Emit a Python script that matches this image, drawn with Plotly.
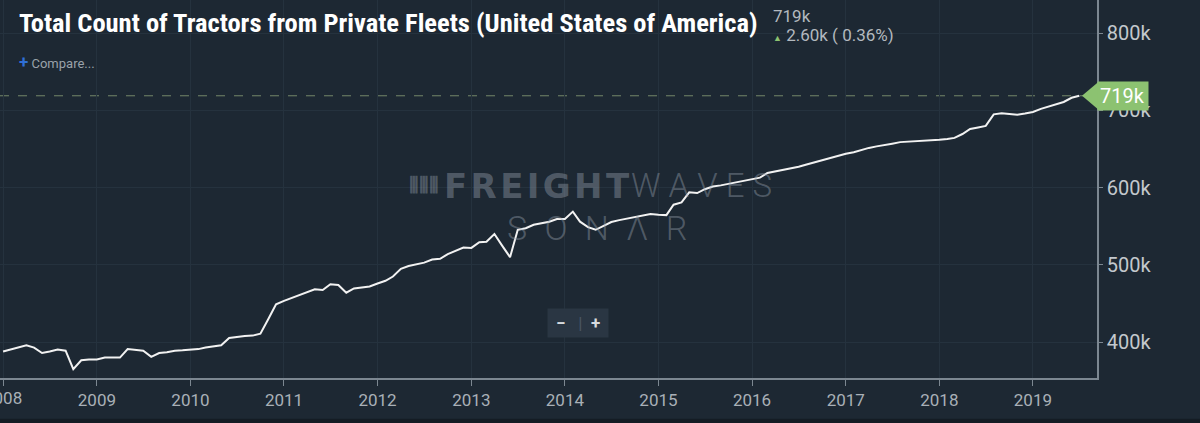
import pandas as pd
import plotly.graph_objects as go

# monthly totals, thousands of tractors (Jan 2008 .. Jul 2019)
start_month = "2008-01-01"
y2008 = [388, 390.5, 393.5, 396, 393, 386, 388, 390.5, 389, 365, 376.5, 377.5]
y2009 = [377.5, 380, 380, 380, 391, 390, 389, 381, 386, 387, 389, 389.5]
y2010 = [390, 391, 393, 395, 396, 405.5, 407, 408, 408.5, 411, 430, 449]
y2011 = [453.5, 457.5, 461, 465, 468.5, 467.5, 475, 474, 464, 469.5, 471, 472]
y2012 = [476, 479.5, 485, 495, 498.5, 501, 503, 507, 508, 514, 518.5, 522.5]
y2013 = [522, 529.5, 530, 540, 525, 510, 545.5, 547.5, 552, 554, 556, 559.5]
y2014 = [559.5, 569, 556, 549, 545.5, 550.5, 555.5, 558, 560, 562, 564, 566]
y2015 = [565, 564.5, 578, 581, 594, 593, 598, 601.5, 603, 605, 607, 609]
y2016 = [611, 613, 619, 621, 623, 625.5, 627, 630, 633, 636, 639, 641.5]
y2017 = [644, 646, 649, 651.5, 653.5, 655, 657, 659, 659.5, 660, 660.5, 661.5]
y2018 = [662, 663, 664.5, 669.5, 676, 678, 680, 695, 696.5, 695.5, 694.5, 696]
y2019 = [698, 702, 705, 707.5, 711, 716.4, 719]

values = (y2008 + y2009 + y2010 + y2011 + y2012 + y2013 + y2014
          + y2015 + y2016 + y2017 + y2018 + y2019)
months = pd.date_range(start_month, periods=len(values), freq="MS")

y_ticks = [400, 500, 600, 700, 800]
y_tick_labels = [f"{v}k" for v in y_ticks]
years = list(range(2008, 2020))
x_ticks = [f"{yr}-01-01" for yr in years]
x_tick_labels = [str(yr) for yr in years]

last = values[-1]
change = values[-1] - values[-2]
pct = change / values[-2] * 100

BG = "#1d2833"
GRID = "#25323e"
GREEN = "#8cc271"
AXIS_TXT = "#c3c8cd"
AXIS_LINE = "#7c8791"

fig = go.Figure()
fig.add_trace(go.Scatter(
    x=months, y=values, mode="lines",
    line=dict(color="#f2f2f2", width=2),
    hoverinfo="x+y", showlegend=False,
))

fig.update_layout(
    width=1200, height=423,
    paper_bgcolor=BG, plot_bgcolor=BG,
    margin=dict(l=0, r=103, t=0, b=45),
    font=dict(family="Roboto, sans-serif", color=AXIS_TXT),
    xaxis=dict(
        range=["2007-12-20", "2019-09-08"],
        tickvals=x_ticks, ticktext=x_tick_labels,
        showgrid=True, gridcolor=GRID, gridwidth=1,
        showline=True, linecolor=AXIS_LINE, linewidth=1.5,
        ticks="outside", ticklen=6, tickcolor=AXIS_LINE,
        tickfont=dict(size=17, color="#a9b0b7"),
        zeroline=False,
    ),
    yaxis=dict(
        side="right", range=[353.6, 843],
        tickvals=y_ticks, ticktext=y_tick_labels,
        showgrid=True, gridcolor=GRID, gridwidth=1,
        showline=True, linecolor=AXIS_LINE, linewidth=1.5,
        ticks="outside", ticklen=4, tickcolor=AXIS_LINE,
        tickfont=dict(size=20, color=AXIS_TXT),
        zeroline=False,
    ),
)

# first year label sits half outside the page on the reference
fig.add_annotation(xref="x", x=x_ticks[0], yref="paper", y=-0.022,
                   xanchor="center", yanchor="top", showarrow=False,
                   text=x_tick_labels[0], font=dict(size=17, color="#a9b0b7"))

# dashed guide at the latest value
fig.add_shape(type="line", xref="paper", x0=0, x1=1, yref="y", y0=last, y1=last,
              line=dict(color="#74876a", width=1, dash="dash"), layer="below")

# value tag on the right axis: arrow head + box
fig.add_shape(type="path", xref="paper", xsizemode="pixel", xanchor=1,
              yref="y", ysizemode="pixel", yanchor=last,
              path="M -15,0 L 1,-13.5 L 1,13.5 Z",
              fillcolor=GREEN, line=dict(width=0))
fig.add_annotation(xref="paper", x=1, yref="y", y=last, xanchor="left",
                   text=f"{last:.0f}k", showarrow=False,
                   bgcolor=GREEN, borderpad=2, width=46, align="left",
                   font=dict(size=20, color="#ffffff"))

# title and header
fig.add_annotation(xref="paper", yref="paper", x=0.0155, y=0.94,
                   xanchor="left", yanchor="middle", showarrow=False,
                   text="<b>Total Count of Tractors from Private Fleets (United States of America)</b>",
                   font=dict(family="Roboto Condensed, Liberation Sans Narrow, DejaVu Sans Condensed, Arial Narrow, sans-serif",
                             size=26.5, color="#ffffff"))
fig.add_annotation(xref="paper", yref="paper", x=0.703, y=0.957,
                   xanchor="left", yanchor="middle", showarrow=False,
                   text=f"{last:.0f}k", font=dict(size=17, color="#b3b9bf"))
fig.add_annotation(xref="paper", yref="paper", x=0.703, y=0.908,
                   xanchor="left", yanchor="middle", showarrow=False,
                   text=f"<span style='color:{GREEN};font-size:9px'>▲</span> {change:.2f}k ( {pct:.2f}%)",
                   font=dict(size=17, color="#b3b9bf"))
fig.add_annotation(xref="paper", yref="paper", x=0.0155, y=0.836,
                   xanchor="left", yanchor="middle", showarrow=False,
                   text="<span style='color:#2f6fd6;font-size:17px'><b>+</b></span> Compare...",
                   font=dict(size=13, color="#9aa2aa"))

# watermark
wm = "rgba(150,160,172,0.42)"
fig.add_annotation(xref="paper", yref="paper", x=0.4025, y=0.509,
                   xanchor="left", yanchor="middle", showarrow=False,
                   text="<b>F\u200aR\u200aE\u200aI\u200aG\u200aH\u200aT</b>",
                   font=dict(family="DejaVu Sans", size=34, color=wm))
fig.add_annotation(xref="paper", yref="paper", x=0.5735, y=0.509,
                   xanchor="left", yanchor="middle", showarrow=False,
                   text="W\u00a0A\u00a0V\u00a0E\u00a0S",
                   font=dict(family="Roboto", weight=300, size=33, color=wm))
fig.add_annotation(xref="paper", yref="paper", x=0.371, y=0.509,
                   xanchor="left", yanchor="middle", showarrow=False,
                   text="<b>⦀⦀⦀</b>",
                   font=dict(family="DejaVu Sans", size=22, color=wm))
fig.add_annotation(xref="paper", yref="paper", x=0.5445, y=0.397,
                   xanchor="center", yanchor="middle", showarrow=False,
                   text="S\u2002O\u2002N\u2002Λ\u2002R",
                   font=dict(family="Roboto", weight=300, size=34, color=wm))

# zoom buttons
fig.add_annotation(xref="paper", yref="paper", x=0.5265, y=0.145,
                   xanchor="center", yanchor="middle", showarrow=False,
                   text="\u00a0<b>−</b>\u00a0\u00a0 <span style='color:#4a5663'>|</span> \u00a0<b>+</b>\u00a0",
                   bgcolor="#2a3643", borderpad=4,
                   font=dict(size=17, color="#d6dade"))

# dark strip at the very bottom
fig.add_shape(type="rect", xref="paper", yref="paper", x0=-0.01, x1=1.2,
              y0=-0.14, y1=-0.108, fillcolor="#141c24", line=dict(width=0))

fig.write_html("out.html", config={"displayModeBar": False},
               post_script="document.body.style.margin='0';")
